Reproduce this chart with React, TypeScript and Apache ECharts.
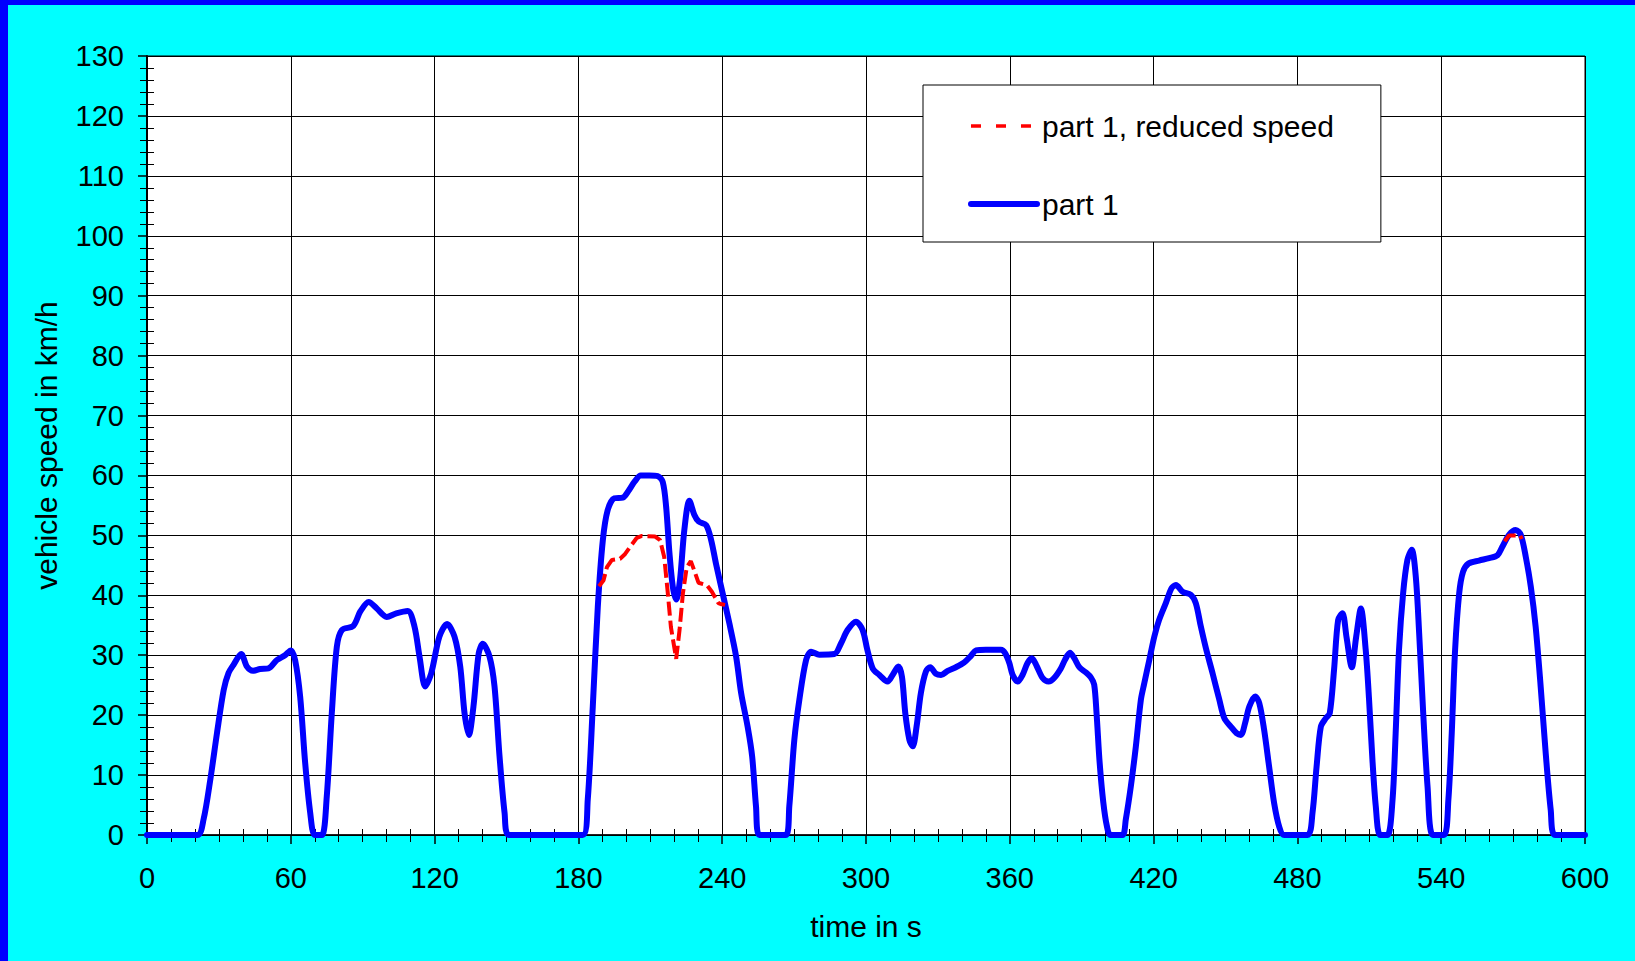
import { useEffect, useRef } from "react";
import * as echarts from "echarts";

// time in s / vehicle speed in km/h, "part 1"
const part1Time = [
  0, 21, 23.6, 26.4, 29.2, 32, 34, 36.1, 39.3, 41.7, 44.2, 47.2, 50.7, 54.2, 57.6, 60, 61.8, 63.9, 66, 68.1, 70,
  73, 75, 77.1, 79.2, 81.3, 86.1, 89, 92.5, 95.9, 100, 104, 108.8, 111.6, 113.7, 116.1, 118.6, 122, 125.2, 128.3,
  130.7, 132.5, 134.3, 136.2, 138.4, 140.1, 142.9, 145, 147.1, 149.2, 151,
  181.8, 183.9, 186, 188.1, 190.2, 192.2, 195, 198.5, 201, 203.5, 206, 209.6, 213.1, 215.2, 216.6, 218, 219.4,
  220.8, 222.4, 224.2, 226.3, 228.4, 230.2, 233.3, 235.4, 237.4, 240.2, 243, 245.8, 247.9, 250.6, 252.5, 254.1,
  255.5, 266.6, 268, 270.1, 272.2, 275, 277.1, 280.5, 286.8, 289.6, 292.3, 295.8, 298.6, 300.5, 302.8, 305.6,
  309, 311.1, 313.5, 315, 316.4, 318.1, 319.5, 321.1, 322.9, 325, 326.8, 329.2, 331.3, 334.1, 337.5, 341, 343.8,
  345.9, 350, 356.3, 358.1, 359.8, 361.2, 363.3, 365.3, 367.4, 369.2, 371.2, 373.7, 376.2, 378.5, 381.3, 383.1,
  385.1, 386.9, 389, 391.8, 393.8, 395.2, 396.2, 397.5, 399, 400.5, 402,
  407, 408.4, 410.5, 412.6, 414.7, 416.1, 418.2, 420.3, 422.3, 425.1, 427.5, 429.3, 432.1, 435.5, 437.6, 439.7,
  441.8, 444.6, 447.4, 449.5, 452.2, 454.6, 456.4, 458.2, 459.9, 462.4, 464.1, 466.1, 468.2, 470.3, 472.4, 474.5,
  484.2, 486.3, 488, 489.8, 491.9, 493.5, 495.3, 497, 498.8, 500.5, 502.7, 504.5, 506.5, 508.5, 509.9, 511.3,
  512.7, 514.5, 517.6, 519.7, 521, 522.4, 524.1, 525.9, 527.7, 529.4, 530.8, 532.5, 534.3, 536.5,
  541.2, 543, 544.4, 545.8, 547.5, 549.1, 551.4, 555.8, 560, 563.5, 565.5, 568.3, 571.1, 573.2, 575.3, 577.4,
  579.4, 581.5, 583.6, 585.7, 587.5, 600,
];
const part1Speed = [
  0, 0, 2.6, 9.2, 17, 24.2, 27, 28.4, 30.2, 28.1, 27.4, 27.7, 27.8, 29.2, 30, 30.8, 29.2, 23.1, 12, 3.7, 0,
  0, 6.4, 20.3, 31.4, 34.2, 34.9, 37.3, 38.9, 37.8, 36.4, 37, 37.4, 34.8, 29.8, 24.8, 27, 33.1, 35.2, 33.1,
  28.1, 20.3, 16.7, 21.4, 30.3, 31.9, 29.8, 24.8, 13.1, 3.7, 0,
  0, 5.9, 21.4, 38.1, 49.2, 54.2, 56.2, 56.3, 57.5, 59, 60, 60, 59.9, 58.9, 54.8, 47, 41.4,
  39.3, 42.6, 50.9, 55.8, 53.4, 52.3, 51.7, 49.2, 45.3, 40.3, 35.3, 29.8, 23.7, 18.1, 13.1, 4.8,
  0, 0, 4.8, 15.9, 22.6, 29.2, 30.6, 30.1, 30.2, 32, 34.2, 35.6, 34.2, 31, 27.8, 26.7,
  25.6, 26.7, 28.1, 26.4, 20.3, 15.9, 14.8, 18.1, 23.7, 27.3, 28, 26.9, 26.7, 27.4, 28, 28.8, 29.9,
  30.8, 30.9, 30.9, 30.3, 28.7, 26.7, 25.6, 26.7, 28.7, 29.5, 28.2, 26.2, 25.6, 26.2, 27.8, 29.3,
  30.4, 29.5, 28, 27.1, 26.3, 25.1, 20.3, 12, 5.5, 1.5, 0,
  0, 2.6, 8.1, 14.8, 22.6, 25.3, 29.2, 33.1, 35.9, 38.7, 41.2, 41.7, 40.6, 40.1, 38.7, 34.8,
  31.2, 27, 22.6, 19.5, 18.1, 17, 16.7, 18.7, 21.4, 23.1, 22, 17.6, 11.4, 5.3, 1.4, 0,
  0, 3.7, 11.4, 18.1, 19.5, 20.3, 27.6, 35.9, 37, 33, 28, 33, 37.8, 30.9, 22.6, 12.6,
  4.8, 0, 0, 5.9, 17, 30.9, 40.3, 45.9, 47.6, 43.1, 33.7, 20.3, 8.1, 0,
  0, 5.9, 17, 30.9, 40.3, 43.9, 45.3, 45.8, 46.2, 46.7, 48.1, 50.1, 50.9, 50.1, 46.4, 41.4,
  34.8, 24.8, 13.7, 4.2, 0, 0,
];

// "part 1, reduced speed" where it differs from part 1 (null = gap)
const reducedTime = [
  188.6, 190.5, 191.9, 194, 197.4, 199.5, 201.6, 204.4, 206.5, 212, 214.1, 215.8, 217.2, 218.6, 220.8, 222.2,
  223.6, 225.2, 226.9, 228.3, 230.1, 233.6, 235.7, 238.4, 239.8, 241.2,
  400,
  566.5, 568.3, 572.9, 573.6,
];
const reducedSpeed: (number | null)[] = [
  41.5, 42.5, 44.7, 45.9, 46.1, 46.9, 48.1, 49.6, 49.9, 49.8, 49.2, 46.4, 40.8, 34.7, 29.4, 34.2,
  40.3, 44.7, 45.7, 44.2, 42.1, 41.7, 40.6, 38.7, 38.5, 38.4,
  null,
  49, 50, 50, 49.4,
];

const seriesNames = ["part 1, reduced speed", "part 1"];
const xAxisTitle = "time in s";
const yAxisTitle = "vehicle speed in km/h";

const FONT = '"Liberation Sans", Arial, Helvetica, sans-serif';

export default function App() {
  const ref = useRef<HTMLDivElement>(null);

  useEffect(() => {
    if (!ref.current) return;
    const chart = echarts.init(ref.current, null, { renderer: "svg" });

    const blueData = part1Time.map((t, i) => [t, part1Speed[i]]);
    const redData = reducedTime.map((t, i) => [t, reducedSpeed[i] === null ? "-" : reducedSpeed[i]]);

    const gridPos = { left: 147, top: 56, right: 50, bottom: 126 };
    const hiddenSymbol = { opacity: 0, color: "rgba(0,0,0,0)", borderWidth: 0 };

    const option: any = {
      animation: false,
      backgroundColor: "#00FFFF",
      graphic: [
        { type: "rect", left: 0, top: 0, shape: { x: 0, y: 0, width: 8, height: 961 }, style: { fill: "#0000FF" }, silent: true },
        { type: "rect", left: 0, top: 0, shape: { x: 0, y: 0, width: 1635, height: 5 }, style: { fill: "#0000FF" }, silent: true },
      ],
      grid: [
        {
          ...gridPos,
          show: true,
          backgroundColor: "#FFFFFF",
          borderColor: "#000000",
          borderWidth: 1,
          containLabel: false,
          outerBoundsMode: "none",
        },
        { ...gridPos, show: false, containLabel: false, outerBoundsMode: "none" },
      ],
      legend: {
        orient: "vertical",
        left: 923,
        top: 85,
        padding: [25, 47, 22, 45],
        itemGap: 46,
        itemWidth: 66,
        itemHeight: 14,
        backgroundColor: "#FFFFFF",
        borderColor: "#000000",
        borderWidth: 1,
        selectedMode: false,
        textStyle: { fontSize: 30, fontFamily: FONT, color: "#000000", lineHeight: 32 },
        data: [
          {
            name: seriesNames[0],
            itemStyle: hiddenSymbol,
            lineStyle: { color: "#FF0000", width: 3.5, type: [10, 15] },
          },
          {
            name: seriesNames[1],
            itemStyle: hiddenSymbol,
            lineStyle: { color: "#0000FF", width: 6, cap: "round" },
          },
        ],
      },
      xAxis: [
        {
          type: "value",
          gridIndex: 0,
          min: 0,
          max: 600,
          interval: 60,
          name: xAxisTitle,
          nameLocation: "middle",
          nameGap: 76,
          nameMoveOverlap: false,
          nameTextStyle: { fontSize: 30, fontFamily: FONT, color: "#000000" },
          axisLine: { show: true, onZero: false, lineStyle: { color: "#000000", width: 1.5 } },
          axisTick: { show: true, inside: false, length: 9, lineStyle: { color: "#000000", width: 1.5 } },
          minorTick: { show: true, splitNumber: 6, length: 7, lineStyle: { color: "#000000", width: 1 } },
          splitLine: { show: true, lineStyle: { color: "#000000", width: 1 } },
          axisLabel: { fontSize: 29, fontFamily: FONT, color: "#000000", margin: 28 },
        },
        {
          type: "value",
          gridIndex: 1,
          min: 0,
          max: 600,
          interval: 10,
          axisLine: { show: false },
          axisTick: { show: true, inside: true, length: 6, lineStyle: { color: "#000000", width: 1 } },
          splitLine: { show: false },
          axisLabel: { show: false },
        },
      ],
      yAxis: [
        {
          type: "value",
          gridIndex: 0,
          min: 0,
          max: 130,
          interval: 10,
          name: yAxisTitle,
          nameLocation: "middle",
          nameRotate: 90,
          nameGap: 86,
          nameMoveOverlap: false,
          nameTextStyle: { fontSize: 30, fontFamily: FONT, color: "#000000" },
          axisLine: { show: true, onZero: false, lineStyle: { color: "#000000", width: 2 } },
          axisTick: { show: true, inside: false, length: 9, lineStyle: { color: "#000000", width: 1.5 } },
          minorTick: { show: true, splitNumber: 5, length: 7, lineStyle: { color: "#000000", width: 1 } },
          splitLine: { show: true, lineStyle: { color: "#000000", width: 1 } },
          axisLabel: { fontSize: 29, fontFamily: FONT, color: "#000000", margin: 23 },
        },
        {
          type: "value",
          gridIndex: 1,
          min: 0,
          max: 130,
          interval: 2,
          axisLine: { show: false },
          axisTick: { show: true, inside: true, length: 7, lineStyle: { color: "#000000", width: 1 } },
          splitLine: { show: false },
          axisLabel: { show: false },
        },
      ],
      series: [
        {
          name: seriesNames[1],
          type: "line",
          xAxisIndex: 0,
          yAxisIndex: 0,
          data: blueData,
          symbol: "none",
          showSymbol: false,
          smooth: 0.3,
          clip: true,
          lineStyle: { color: "#0000FF", width: 6, cap: "round", join: "round" },
          itemStyle: { color: "#0000FF" },
          z: 2,
        },
        {
          name: seriesNames[0],
          type: "line",
          xAxisIndex: 0,
          yAxisIndex: 0,
          data: redData,
          symbol: "none",
          showSymbol: false,
          smooth: false,
          connectNulls: false,
          clip: true,
          lineStyle: { color: "#FF0000", width: 4, type: [14, 5] },
          itemStyle: { color: "#FF0000" },
          z: 3,
        },
      ],
    };

    chart.setOption(option);
    return () => chart.dispose();
  }, []);

  return (
    <div
      ref={ref}
      style={{ position: "absolute", left: 0, top: 0, width: 1635, height: 961 }}
    />
  );
}
